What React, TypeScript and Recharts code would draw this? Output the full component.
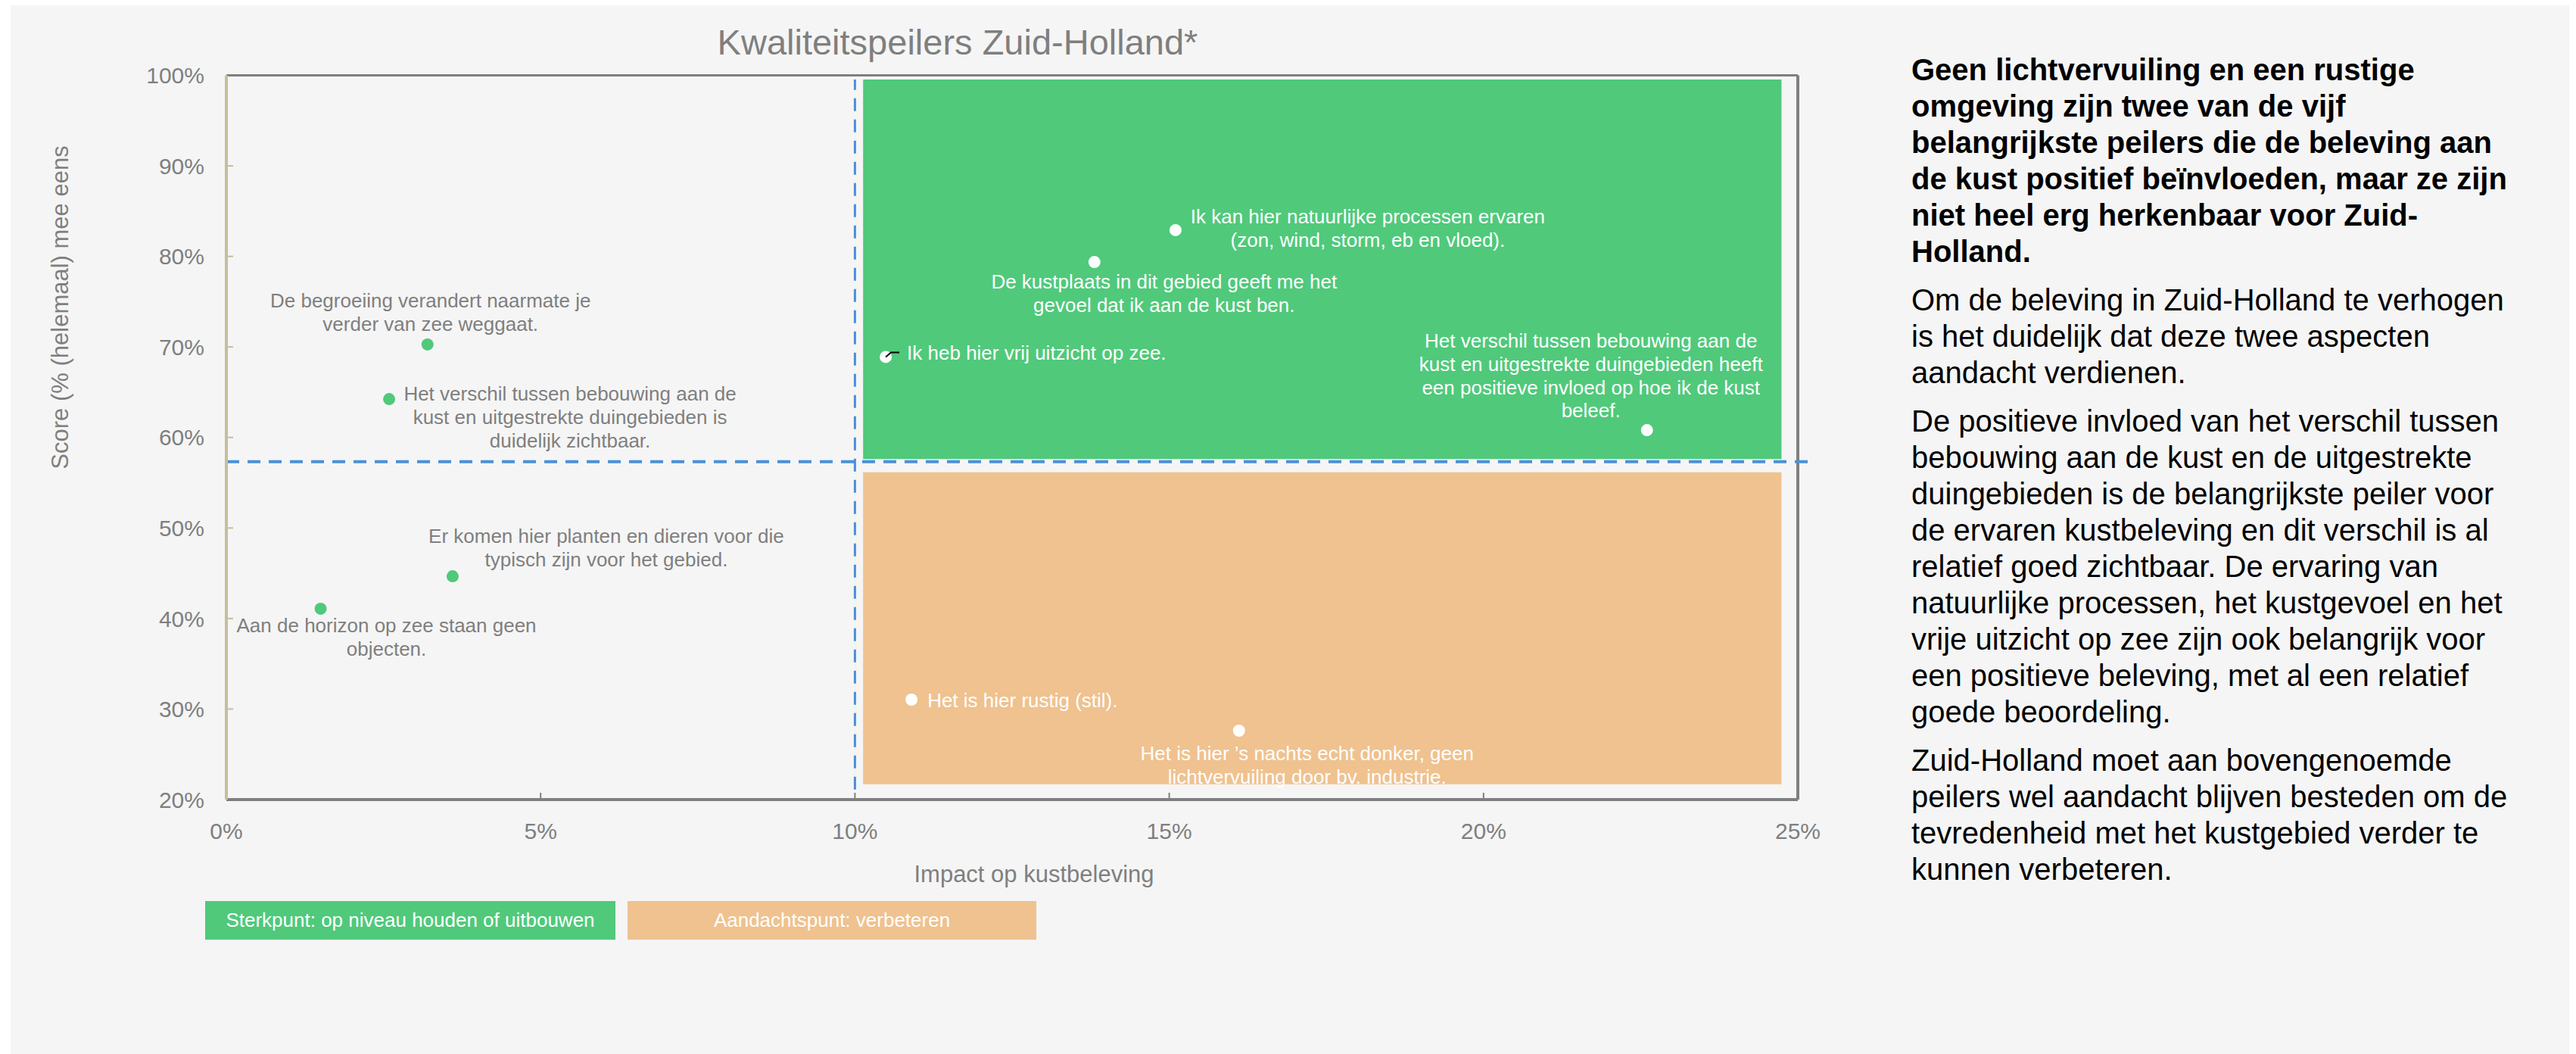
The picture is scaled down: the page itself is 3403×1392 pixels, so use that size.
import React from "react";
import {
  ScatterChart,
  Scatter,
  XAxis,
  YAxis,
  ReferenceArea,
  ReferenceLine,
} from "recharts";

// Impact op kustbeleving (%) and score (% (helemaal) mee eens) per peiler.
const PEILERS = [
  ["De begroeiing verandert naarmate je", "verder van zee weggaat."],
  ["Het verschil tussen bebouwing aan de", "kust en uitgestrekte duingebieden is", "duidelijk zichtbaar."],
  ["Er komen hier planten en dieren voor die", "typisch zijn voor het gebied."],
  ["Aan de horizon op zee staan geen", "objecten."],
  ["Ik heb hier vrij uitzicht op zee."],
  ["Ik kan hier natuurlijke processen ervaren", "(zon, wind, storm, eb en vloed)."],
  ["De kustplaats in dit gebied geeft me het", "gevoel dat ik aan de kust ben."],
  ["Het verschil tussen bebouwing aan de", "kust en uitgestrekte duingebieden heeft", "een positieve invloed op hoe ik de kust", "beleef."],
  ["Het is hier rustig (stil)."],
  ["Het is hier \u2019s nachts echt donker, geen", "lichtvervuiling door bv. industrie."],
];
const IMPACT = [3.2, 2.59, 3.6, 1.5, 10.49, 15.1, 13.81, 22.6, 10.9, 16.11];
const SCORE = [70.27, 64.24, 44.67, 41.08, 68.89, 82.9, 79.38, 60.81, 31.04, 27.61];

const X_TICKS = [0, 5, 10, 15, 20, 25];
const Y_TICKS = [20, 30, 40, 50, 60, 70, 80, 90, 100];

// quadrant split + the two coloured blocks (in chart units)
const IMPACT_SPLIT = 10;
const SCORE_SPLIT = 57.32;
const STRONG_AREA = { x1: 10.13, x2: 24.74, y1: 57.61, y2: 99.54 };
const ATTENTION_AREA = { x1: 10.13, x2: 24.74, y1: 21.7, y2: 56.15 };

const LEGEND = ["Sterkpunt: op niveau houden of uitbouwen", "Aandachtspunt: verbeteren"];

const BOLD_LINES = [
  "Geen lichtvervuiling en een rustige",
  "omgeving zijn twee van de vijf",
  "belangrijkste peilers die de beleving aan",
  "de kust positief be\u00efnvloeden, maar ze zijn",
  "niet heel erg herkenbaar voor Zuid-",
  "Holland.",
];
const PARAGRAPHS = [
  ["Om de beleving in Zuid-Holland te verhogen", "is het duidelijk dat deze twee aspecten", "aandacht verdienen."],
  [
    "De positieve invloed van het verschil tussen",
    "bebouwing aan de kust en de uitgestrekte",
    "duingebieden is de belangrijkste peiler voor",
    "de ervaren kustbeleving en dit verschil is al",
    "relatief goed zichtbaar. De ervaring van",
    "natuurlijke processen, het kustgevoel en het",
    "vrije uitzicht op zee zijn ook belangrijk voor",
    "een positieve beleving, met al een relatief",
    "goede beoordeling.",
  ],
  ["Zuid-Holland moet aan bovengenoemde", "peilers wel aandacht blijven besteden om de", "tevredenheid met het kustgebied verder te", "kunnen verbeteren."],
];

// where each label sits relative to its dot (px), same order as PEILERS
const LABEL_POS: { anchor: "start" | "middle"; dx: number; dy: number; leader?: boolean }[] = [
  { anchor: "middle", dx: 4, dy: -58 },
  { anchor: "middle", dx: 239, dy: -7 },
  { anchor: "middle", dx: 203, dy: -53 },
  { anchor: "middle", dx: 87, dy: 22 },
  { anchor: "start", dx: 28, dy: -6, leader: true },
  { anchor: "middle", dx: 254, dy: -18 },
  { anchor: "middle", dx: 92, dy: 26 },
  { anchor: "middle", dx: -74, dy: -118 },
  { anchor: "start", dx: 21, dy: 1 },
  { anchor: "middle", dx: 90, dy: 30 },
];

const FONT = "'Liberation Sans', Arial, sans-serif";
const GREEN = "#50c97b";
const ORANGE = "#efc28f";
const BLUE = "#4a90d9";
const GREY = "#7f7f7f";
const LINE_H = 30.6;

const rows = IMPACT.map((x, i) => ({ id: i, x, y: SCORE[i], lines: PEILERS[i] }));
const weak = rows.filter((r) => r.x < IMPACT_SPLIT);
const strong = rows.filter((r) => r.x >= IMPACT_SPLIT);

function renderPoint(props: any, dotColor: string, textColor: string) {
  const { cx, cy, payload } = props;
  const pos = LABEL_POS[payload.id];
  return (
    <g>
      <circle cx={cx} cy={cy} r={8} fill={dotColor} />
      {pos.leader && (
        <polyline
          points={`${cx},${cy} ${cx + 7},${cy - 6} ${cx + 18},${cy - 6}`}
          fill="none"
          stroke="#000"
          strokeWidth={2}
        />
      )}
      <text fontFamily={FONT} fontSize={26} fill={textColor} textAnchor={pos.anchor}>
        {payload.lines.map((l: string, i: number) => (
          <tspan key={i} x={cx + pos.dx} y={cy + pos.dy + i * LINE_H + 9.3}>
            {l}
          </tspan>
        ))}
      </text>
    </g>
  );
}

function YTick(props: any) {
  const { x, y, payload } = props;
  return (
    <g>
      {payload.value > 20 && payload.value < 100 && (
        <line x1={x} x2={x + 9} y1={y} y2={y} stroke="#c6be9c" strokeWidth={2} />
      )}
      <text x={x - 29} y={y + 10.7} textAnchor="end" fontFamily={FONT} fontSize={30} fill={GREY}>
        {payload.value}%
      </text>
    </g>
  );
}

function XTick(props: any) {
  const { x, y, payload } = props;
  return (
    <g>
      {payload.value > 0 && payload.value < 25 && (
        <line x1={x} x2={x} y1={y} y2={y - 9} stroke={GREY} strokeWidth={2} />
      )}
      <text x={x} y={y + 51.7} textAnchor="middle" fontFamily={FONT} fontSize={30} fill={GREY}>
        {payload.value}%
      </text>
    </g>
  );
}

export default function App() {
  return (
    <div
      style={{
        position: "absolute",
        left: 14,
        top: 7,
        width: 3380,
        height: 1385,
        background: "#f5f5f5",
        fontFamily: FONT,
      }}
    >
      <div
        style={{
          position: "absolute",
          left: 0,
          top: 25,
          width: 2502,
          textAlign: "center",
          fontSize: 47,
          lineHeight: "47px",
          color: GREY,
        }}
      >
        Kwaliteitspeilers Zuid-Holland*
      </div>

      <div style={{ position: "absolute", left: 0, top: 0 }}>
        <ScatterChart width={2420} height={1300} margin={{ top: 92.5, right: 59, bottom: 191, left: 0 }}>
          <XAxis
            type="number"
            dataKey="x"
            domain={[0, 25]}
            ticks={X_TICKS}
            interval={0}
            allowDataOverflow
            height={60}
            tickSize={0}
            tickMargin={0}
            tick={<XTick />}
            axisLine={{ stroke: GREY, strokeWidth: 4 }}
            label={(p: any) => {
              const vb = p.viewBox;
              return (
                <text
                  x={vb.x + vb.width / 2 + 29}
                  y={vb.y + 109}
                  textAnchor="middle"
                  fontFamily={FONT}
                  fontSize={31}
                  fill={GREY}
                >
                  Impact op kustbeleving
                </text>
              );
            }}
          />
          <YAxis
            type="number"
            dataKey="y"
            domain={[20, 100]}
            ticks={Y_TICKS}
            interval={0}
            allowDataOverflow
            width={285}
            tickSize={0}
            tickMargin={0}
            tick={<YTick />}
            axisLine={{ stroke: "#c6be9c", strokeWidth: 4 }}
            label={() => (
              <text
                x={76}
                y={399}
                transform="rotate(-90 76 399)"
                textAnchor="middle"
                fontFamily={FONT}
                fontSize={31}
                fill={GREY}
              >
                Score (% (helemaal) mee eens
              </text>
            )}
          />
          <ReferenceArea {...STRONG_AREA} fill={GREEN} fillOpacity={1} stroke="none" ifOverflow="visible" />
          <ReferenceArea {...ATTENTION_AREA} fill={ORANGE} fillOpacity={1} stroke="none" ifOverflow="visible" />
          <ReferenceLine y={100} stroke={GREY} strokeWidth={3} ifOverflow="visible" />
          <ReferenceLine x={25} stroke={GREY} strokeWidth={4} ifOverflow="visible" />
          <ReferenceLine
            segment={[
              { x: IMPACT_SPLIT, y: 21.1 },
              { x: IMPACT_SPLIT, y: 99.54 },
            ]}
            stroke={BLUE}
            strokeWidth={3}
            strokeDasharray="17 11"
            ifOverflow="visible"
          />
          <ReferenceLine
            segment={[
              { x: 0, y: SCORE_SPLIT },
              { x: 25.16, y: SCORE_SPLIT },
            ]}
            stroke={BLUE}
            strokeWidth={4}
            strokeDasharray="17 11"
            ifOverflow="visible"
          />
          <Scatter
            data={weak}
            isAnimationActive={false}
            shape={(p: any) => renderPoint(p, GREEN, GREY)}
          />
          <Scatter
            data={strong}
            isAnimationActive={false}
            shape={(p: any) => renderPoint(p, "#ffffff", "#ffffff")}
          />
        </ScatterChart>
      </div>

      {LEGEND.map((t, i) => (
        <div
          key={t}
          style={{
            position: "absolute",
            left: i === 0 ? 257 : 815,
            top: 1183,
            width: i === 0 ? 542 : 540,
            height: 51,
            lineHeight: "51px",
            background: i === 0 ? GREEN : ORANGE,
            color: "#fff",
            fontSize: 26,
            textAlign: "center",
          }}
        >
          {t}
        </div>
      ))}

      <div
        style={{
          position: "absolute",
          left: 2511,
          top: 61,
          fontSize: 40,
          lineHeight: "48px",
          color: "#000",
          whiteSpace: "nowrap",
        }}
      >
        <div style={{ fontWeight: "bold" }}>
          {BOLD_LINES.map((l) => (
            <div key={l}>{l}</div>
          ))}
        </div>
        {PARAGRAPHS.map((p, i) => (
          <div key={i} style={{ marginTop: 16 }}>
            {p.map((l) => (
              <div key={l}>{l}</div>
            ))}
          </div>
        ))}
      </div>
    </div>
  );
}
